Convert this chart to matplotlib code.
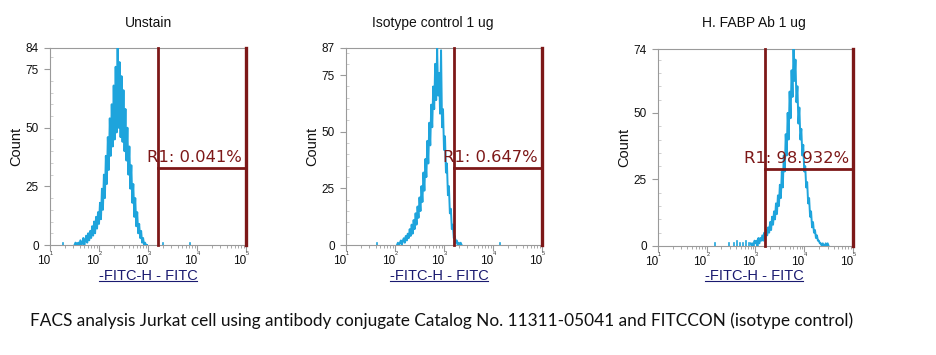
import numpy as np
import matplotlib
matplotlib.use('Agg')
import matplotlib.pyplot as plt
from matplotlib.ticker import FixedLocator, MultipleLocator, LogLocator, NullFormatter, FixedFormatter
from matplotlib.lines import Line2D
from matplotlib.transforms import blended_transform_factory, offset_copy

# ---------------- data ----------------
titles = ["Unstain", "Isotype control 1 ug", "H. FABP Ab 1 ug"]
x_label = "-FITC-H - FITC"
y_label = "Count"
caption = "FACS analysis Jurkat cell using antibody conjugate Catalog No. 11311-05041 and FITCCON (isotype control)"

y_max = [84, 87, 74]
y_ticks = [[0, 25, 50, 75, 84], [0, 25, 50, 75, 87], [0, 25, 50, 74]]
x_decades = [1, 2, 3, 4, 5]

gate_low = [1580, 1580, 1550]
gate_high = [1e5, 1e5, 1e5]
gate_level = [33, 34, 29]
gate_labels = ["R1: 0.041%", "R1: 0.647%", "R1: 98.932%"]

bin_step = 0.02  # decades per channel bin
hist_start = [1.50, 2.04, 2.90]  # log10 of first bin

counts_unstain = [0, 1, 0, 0, 1, 0, 2, 0, 1, 3, 0, 2, 4, 1, 5, 2, 6, 3, 8, 4,
                  10, 5, 12, 7, 14, 9, 18, 11, 24, 15, 30, 20, 38, 26, 46, 32, 54, 38, 60, 42,
                  68, 45, 76, 48, 84, 50, 78, 46, 72, 44, 66, 40, 58, 36, 50, 30, 42, 24, 34, 18,
                  26, 12, 20, 8, 14, 5, 9, 3, 6, 1, 3, 0, 1, 0, 0]
counts_isotype = [0, 1, 0, 1, 2, 0, 2, 3, 1, 4, 2, 5, 3, 7, 4, 9, 5, 11, 7, 14,
                  9, 17, 12, 21, 15, 26, 19, 32, 24, 38, 30, 46, 36, 54, 44, 62, 52, 70, 60, 80,
                  64, 87, 66, 76, 58, 86, 52, 60, 42, 48, 32, 36, 22, 26, 14, 16, 7, 9, 3, 4,
                  1, 2, 0, 1, 0, 1, 0]
counts_fabp = [1, 0, 1, 0, 2, 1, 2, 0, 3, 1, 3, 2, 4, 2, 5, 3, 6, 4, 7, 5,
               9, 6, 11, 8, 13, 10, 16, 12, 19, 15, 23, 18, 28, 22, 34, 28, 42, 34, 50, 40,
               58, 48, 66, 56, 74, 62, 70, 54, 60, 46, 52, 40, 44, 34, 38, 28, 30, 22, 24, 16,
               18, 11, 13, 7, 9, 5, 6, 3, 4, 2, 2, 1, 1, 0, 1, 0, 0, 1, 0, 1, 0]
hist_counts = [counts_unstain, counts_isotype, counts_fabp]

# isolated events outside the main peak (log10 channel, count)
event_pos = [[1.27, 1.55, 3.30, 3.86],
             [1.63, 4.14],
             [2.17, 2.45, 2.55, 2.62, 2.68, 2.74, 2.80, 2.86]]
event_cnt = [[1, 1, 1, 1],
             [1, 1],
             [1, 1, 1, 2, 1, 1, 2, 1]]

# ---------------- style ----------------
W, H = 937, 355
hist_color = '#1ea4dc'
gate_color = '#7d1818'
label_color = '#1a1a70'
spine_color = '#9a9a9a'
axes_px = [(50, 48, 196, 197), (346, 48, 196, 197), (658, 49, 195, 197)]  # left, top, width, height
title_cx = [148, 433, 754]
xlabel_cx = [148, 439, 754]

plt.rcParams['font.family'] = ['Liberation Sans', 'DejaVu Sans']

fig = plt.figure(figsize=(W / 100, H / 100), dpi=100)
fig.patch.set_facecolor('white')

for i in range(3):
    l, t, w, h = axes_px[i]
    ax = fig.add_axes([l / W, 1 - (t + h) / H, w / W, h / H])
    ax.set_xscale('log')
    ax.set_xlim(10 ** x_decades[0], 10 ** x_decades[-1])
    ax.set_ylim(0, y_max[i])

    logs = hist_start[i] + bin_step * np.arange(len(hist_counts[i]))
    ax.plot(10 ** logs, hist_counts[i], color=hist_color, lw=1.4, zorder=3)
    for p, c in zip(event_pos[i], event_cnt[i]):
        ax.plot([10 ** p, 10 ** p], [0, c], color=hist_color, lw=1.2, zorder=3)

    # gate
    ax.plot([gate_low[i], gate_low[i]], [0, y_max[i]], color=gate_color, lw=2.0, zorder=4, clip_on=False)
    ax.plot([gate_high[i], gate_high[i]], [0, y_max[i]], color=gate_color, lw=2.4, zorder=4, clip_on=False)
    ax.plot([gate_low[i], gate_high[i]], [gate_level[i], gate_level[i]], color=gate_color, lw=2.0, zorder=4)
    ax.annotate(gate_labels[i], xy=(gate_high[i], gate_level[i]), xytext=(-4, 3),
                textcoords='offset pixels', ha='right', va='bottom', color=gate_color,
                fontsize=11.8, family='DejaVu Sans', zorder=5)

    # spines / ticks
    for s in ax.spines.values():
        s.set_color(spine_color)
        s.set_linewidth(0.8)
    ax.yaxis.set_major_locator(FixedLocator(y_ticks[i]))
    ax.yaxis.set_minor_locator(MultipleLocator(5))
    ax.xaxis.set_major_locator(FixedLocator([10 ** d for d in x_decades]))
    ax.xaxis.set_minor_locator(LogLocator(base=10, subs=np.arange(2, 10)))
    ax.xaxis.set_minor_formatter(NullFormatter())
    ax.xaxis.set_major_formatter(FixedFormatter(['10'] * len(x_decades)))
    ax.tick_params(axis='both', which='major', length=4, width=0.8, color=spine_color,
                   labelsize=8.5, labelcolor='#111111')
    ax.tick_params(axis='x', which='major', pad=3)
    ax.tick_params(axis='x', which='minor', length=2.5, width=0.6, color=spine_color)
    ax.tick_params(axis='y', which='minor', length=2.5, width=0.6, color='#c8c8c8', direction='in')
    ax.tick_params(axis='y', which='major', pad=4)
    for lab in ax.get_xticklabels():
        lab.set_ha('right')
    # tiny exponents of the decade labels
    trans = offset_copy(blended_transform_factory(ax.transData, ax.transAxes), fig=fig,
                        x=1, y=-6, units='dots')
    for d in x_decades:
        ax.text(10 ** d, 0, str(d), transform=trans, fontsize=4, ha='center', va='top',
                color='#333333', clip_on=False)

    ax.text(-34 / w, 0.5, y_label, rotation=90, ha='center', va='center',
            transform=ax.transAxes, fontsize=10.5, color='#111111')
    fig.text(title_cx[i] / W, 1 - 23 / H, titles[i], ha='center', va='center', fontsize=10, color='#111111')

xlabels = []
for i in range(3):
    t = fig.text(xlabel_cx[i] / W, 1 - 276 / H, x_label, ha='center', va='center',
                 fontsize=10.5, color=label_color)
    xlabels.append(t)

cap = fig.text(30 / W, 1 - 321 / H, caption, ha='left', va='center', fontsize=12,
               family=['Lato', 'DejaVu Sans'], color='#111111')

fig.canvas.draw()
r = fig.canvas.get_renderer()
bb = cap.get_window_extent(r)
cap.set_fontsize(12 * (822 / bb.width))

for t in xlabels:
    b = t.get_window_extent(r)
    yline = (b.y0 + 2) / H
    fig.add_artist(Line2D([b.x0 / W, b.x1 / W], [yline, yline], color=label_color, lw=0.8))

fig.savefig('out.png', dpi=100, facecolor='white')
